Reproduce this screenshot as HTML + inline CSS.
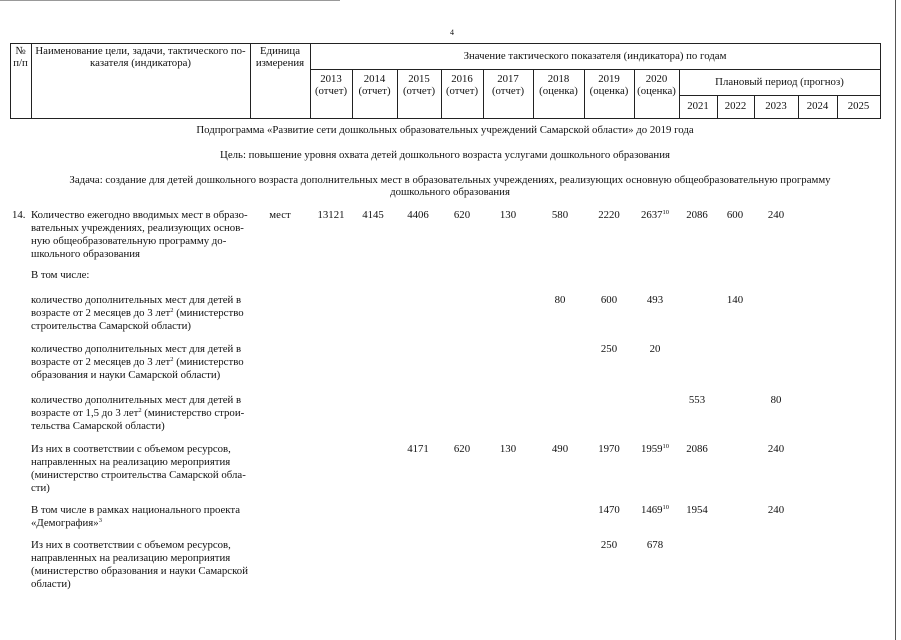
<!DOCTYPE html>
<html><head><meta charset="utf-8"><style>
body{margin:0;width:901px;height:640px;background:#fff;position:relative;overflow:hidden;font-family:"Liberation Serif",serif;font-size:10.8px;color:#111;}
.a{position:absolute;white-space:nowrap;line-height:13px}
.c{position:absolute;text-align:center;line-height:12px;white-space:nowrap}
.h{position:absolute;background:#222;height:1px}
.v{position:absolute;background:#222;width:1px}
.n{position:absolute;transform:translateX(-50%);white-space:nowrap;line-height:13px}
.j{position:absolute;left:31px;width:219px;line-height:13px;white-space:nowrap}
sup{font-size:6.5px;line-height:0;vertical-align:4px}
</style></head><body>
<div class="h" style="left:0;top:0;width:340px;background:#999"></div>
<div class="v" style="left:895px;top:0;height:640px;background:#555"></div>
<div class="a" style="left:450px;top:26px;font-size:8px">4</div>
<div class="h" style="left:10px;top:43px;width:871px"></div>
<div class="h" style="left:310px;top:69px;width:571px"></div>
<div class="h" style="left:679px;top:95px;width:202px"></div>
<div class="h" style="left:10px;top:118px;width:871px"></div>
<div class="v" style="left:10px;top:43px;height:76px"></div>
<div class="v" style="left:31px;top:43px;height:76px"></div>
<div class="v" style="left:250px;top:43px;height:76px"></div>
<div class="v" style="left:310px;top:43px;height:76px"></div>
<div class="v" style="left:352px;top:69px;height:50px"></div>
<div class="v" style="left:397px;top:69px;height:50px"></div>
<div class="v" style="left:441px;top:69px;height:50px"></div>
<div class="v" style="left:483px;top:69px;height:50px"></div>
<div class="v" style="left:533px;top:69px;height:50px"></div>
<div class="v" style="left:584px;top:69px;height:50px"></div>
<div class="v" style="left:634px;top:69px;height:50px"></div>
<div class="v" style="left:679px;top:69px;height:50px"></div>
<div class="v" style="left:717px;top:95px;height:24px"></div>
<div class="v" style="left:754px;top:95px;height:24px"></div>
<div class="v" style="left:798px;top:95px;height:24px"></div>
<div class="v" style="left:837px;top:95px;height:24px"></div>
<div class="v" style="left:880px;top:43px;height:76px"></div>
<div class="c" style="left:10px;top:45px;width:21px">№<br>п/п</div>
<div class="c" style="left:31px;top:45px;width:219px">Наименование цели, задачи, тактического по-<br>казателя (индикатора)</div>
<div class="c" style="left:250px;top:45px;width:60px">Единица<br>измерения</div>
<div class="c" style="left:310px;top:50px;width:570px">Значение тактического показателя (индикатора) по годам</div>
<div class="c" style="left:310px;top:73px;width:42px">2013<br>(отчет)</div>
<div class="c" style="left:352px;top:73px;width:45px">2014<br>(отчет)</div>
<div class="c" style="left:397px;top:73px;width:44px">2015<br>(отчет)</div>
<div class="c" style="left:441px;top:73px;width:42px">2016<br>(отчет)</div>
<div class="c" style="left:483px;top:73px;width:50px">2017<br>(отчет)</div>
<div class="c" style="left:533px;top:73px;width:51px">2018<br>(оценка)</div>
<div class="c" style="left:584px;top:73px;width:50px">2019<br>(оценка)</div>
<div class="c" style="left:634px;top:73px;width:45px">2020<br>(оценка)</div>
<div class="c" style="left:679px;top:76px;width:201px">Плановый период (прогноз)</div>
<div class="c" style="left:679px;top:100px;width:38px">2021</div>
<div class="c" style="left:717px;top:100px;width:37px">2022</div>
<div class="c" style="left:754px;top:100px;width:44px">2023</div>
<div class="c" style="left:798px;top:100px;width:39px">2024</div>
<div class="c" style="left:837px;top:100px;width:43px">2025</div>
<div class="n" style="left:445px;top:124px">Подпрограмма «Развитие сети дошкольных образовательных учреждений Самарской области» до 2019 года</div>
<div class="n" style="left:445px;top:149px">Цель: повышение уровня охвата детей дошкольного возраста услугами дошкольного образования</div>
<div class="n" style="left:450px;top:174px">Задача: создание для детей дошкольного возраста дополнительных мест в образовательных учреждениях, реализующих основную общеобразовательную программу</div>
<div class="n" style="left:450px;top:186px">дошкольного образования</div>
<div class="a" style="left:12px;top:209px">14.</div>
<div class="j" style="top:209px">Количество ежегодно вводимых мест в образо-<br>вательных учреждениях, реализующих основ-<br>ную общеобразовательную программу до-<br>школьного образования</div>
<div class="n" style="left:280px;top:209px">мест</div>
<div class="n" style="left:331px;top:209px">13121</div>
<div class="n" style="left:373px;top:209px">4145</div>
<div class="n" style="left:418px;top:209px">4406</div>
<div class="n" style="left:462px;top:209px">620</div>
<div class="n" style="left:508px;top:209px">130</div>
<div class="n" style="left:560px;top:209px">580</div>
<div class="n" style="left:609px;top:209px">2220</div>
<div class="n" style="left:655px;top:209px">2637<sup>10</sup></div>
<div class="n" style="left:697px;top:209px">2086</div>
<div class="n" style="left:735px;top:209px">600</div>
<div class="n" style="left:776px;top:209px">240</div>
<div class="a" style="left:31px;top:269px">В том числе:</div>
<div class="j" style="top:294px">количество дополнительных мест для детей в<br>возрасте от 2 месяцев до 3 лет<sup>2</sup> (министерство<br>строительства Самарской области)</div>
<div class="n" style="left:560px;top:294px">80</div>
<div class="n" style="left:609px;top:294px">600</div>
<div class="n" style="left:655px;top:294px">493</div>
<div class="n" style="left:735px;top:294px">140</div>
<div class="j" style="top:343px">количество дополнительных мест для детей в<br>возрасте от 2 месяцев до 3 лет<sup>2</sup> (министерство<br>образования и науки Самарской области)</div>
<div class="n" style="left:609px;top:343px">250</div>
<div class="n" style="left:655px;top:343px">20</div>
<div class="j" style="top:394px">количество дополнительных мест для детей в<br>возрасте от 1,5 до 3 лет<sup>2</sup> (министерство строи-<br>тельства Самарской области)</div>
<div class="n" style="left:697px;top:394px">553</div>
<div class="n" style="left:776px;top:394px">80</div>
<div class="j" style="top:443px">Из них в соответствии с объемом ресурсов,<br>направленных на реализацию мероприятия<br>(министерство строительства Самарской обла-<br>сти)</div>
<div class="n" style="left:418px;top:443px">4171</div>
<div class="n" style="left:462px;top:443px">620</div>
<div class="n" style="left:508px;top:443px">130</div>
<div class="n" style="left:560px;top:443px">490</div>
<div class="n" style="left:609px;top:443px">1970</div>
<div class="n" style="left:655px;top:443px">1959<sup>10</sup></div>
<div class="n" style="left:697px;top:443px">2086</div>
<div class="n" style="left:776px;top:443px">240</div>
<div class="j" style="top:504px">В том числе в рамках национального проекта<br>«Демография»<sup>3</sup></div>
<div class="n" style="left:609px;top:504px">1470</div>
<div class="n" style="left:655px;top:504px">1469<sup>10</sup></div>
<div class="n" style="left:697px;top:504px">1954</div>
<div class="n" style="left:776px;top:504px">240</div>
<div class="j" style="top:539px">Из них в соответствии с объемом ресурсов,<br>направленных на реализацию мероприятия<br>(министерство образования и науки Самарской<br>области)</div>
<div class="n" style="left:609px;top:539px">250</div>
<div class="n" style="left:655px;top:539px">678</div>
</body></html>
